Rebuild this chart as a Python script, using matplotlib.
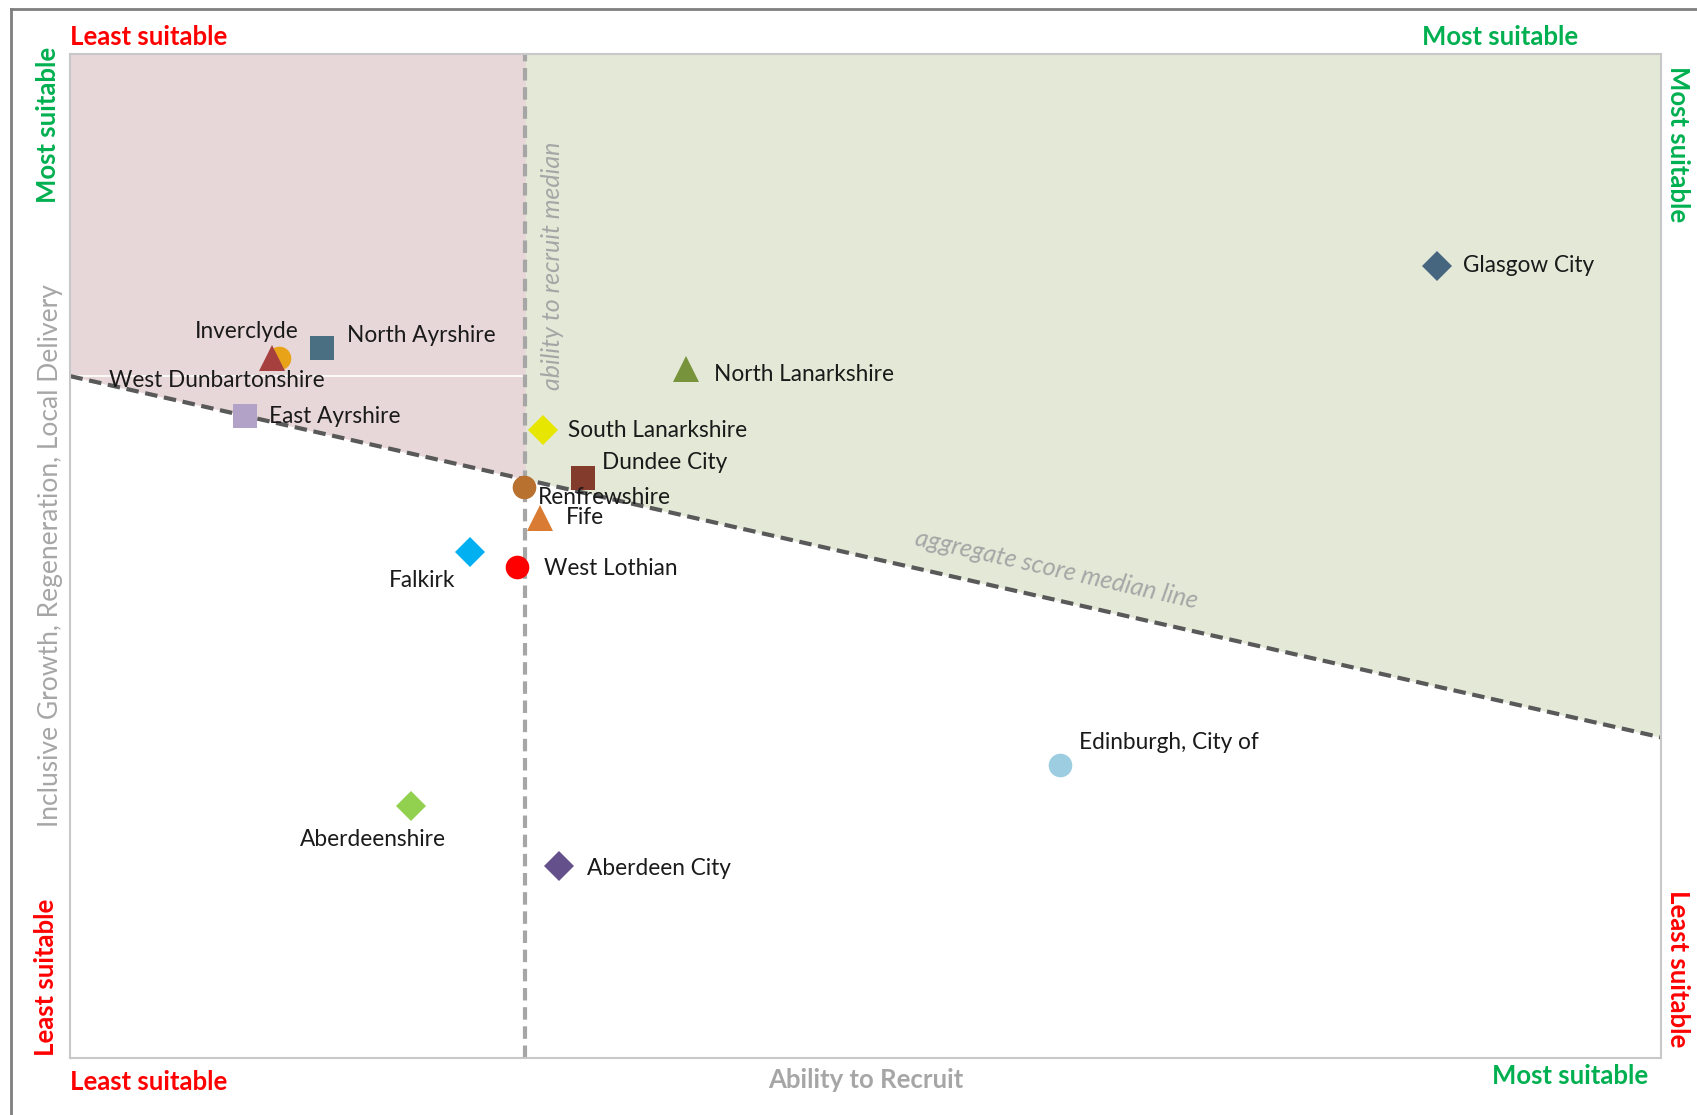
import matplotlib.pyplot as plt
from matplotlib.lines import Line2D

plt.rcParams['font.family'] = ['Lato', 'DejaVu Sans']

# council areas: ability to recruit (x) and inclusive growth score (y)
areas = ["Glasgow City", "North Lanarkshire", "North Ayrshire", "Inverclyde",
         "West Dunbartonshire", "East Ayrshire", "South Lanarkshire", "Dundee City",
         "Renfrewshire", "Fife", "Falkirk", "West Lothian", "Edinburgh, City of",
         "Aberdeenshire", "Aberdeen City"]
recruit = [85.9, 38.7, 15.8, 13.1, 12.7, 11.0, 29.7, 32.2, 28.5, 29.5, 25.1, 28.1, 62.2, 21.4, 30.7]
growth = [78.9, 68.6, 70.7, 69.7, 69.7, 63.9, 62.5, 57.8, 56.9, 53.8, 50.4, 48.9, 29.2, 25.1, 19.1]
markers = ["D", "^", "s", "o", "^", "s", "D", "s", "o", "^", "D", "o", "o", "D", "D"]
colours = ["#46667f", "#77933c", "#4a6f82", "#e8a319", "#a5403e", "#b3a2c7", "#e6e600",
           "#833c2c", "#b8712f", "#d97b33", "#00b0f0", "#ff0000", "#9ccde0", "#92d050", "#64508a"]

# medians
recruit_median = 28.6
agg_x = [0, 100]
agg_y = [67.9, 31.9]

# where each name sits relative to its marker (points) and alignment
label_off = {
    "Glasgow City": (19, 0, "left"), "North Lanarkshire": (20, -4, "left"),
    "North Ayrshire": (18, 9, "left"), "Inverclyde": (-23, 19, "center"),
    "West Dunbartonshire": (-40, -16, "center"), "East Ayrshire": (17, 0, "left"),
    "South Lanarkshire": (18, 0, "left"), "Dundee City": (14, 11, "left"),
    "Renfrewshire": (10, -8, "left"), "Fife": (19, 0, "left"),
    "Falkirk": (-34, -21, "center"), "West Lothian": (19, -1, "left"),
    "Edinburgh, City of": (14, 16, "left"), "Aberdeenshire": (-27, -24, "center"),
    "Aberdeen City": (20, -2, "left"),
}

fig = plt.figure(figsize=(16.97, 11.15), dpi=100)
ax = fig.add_axes([0.0415, 0.0515, 0.9375, 0.9])
ax.set_xlim(0, 100)
ax.set_ylim(0, 100)

def agg_line(x):
    return agg_y[0] + (agg_y[1] - agg_y[0]) * (x - agg_x[0]) / (agg_x[1] - agg_x[0])

# shaded zones above the aggregate line
ax.fill_between([0, recruit_median], [agg_line(0), agg_line(recruit_median)], 100,
                color="#e8d7d8", lw=0, zorder=0)
ax.fill_between([recruit_median, 100], [agg_line(recruit_median), agg_line(100)], 100,
                color="#e3e8d7", lw=0, zorder=0)
ax.plot([0, recruit_median], [agg_y[0], agg_y[0]], color="white", lw=1.2, zorder=1)

ax.axvline(recruit_median, color="#a6a6a6", lw=3, ls=(0, (3, 1.6)), zorder=2)
ax.plot(agg_x, agg_y, color="#595959", lw=3, ls=(0, (3, 1.6)), zorder=2)

for name, x, y, m, c in zip(areas, recruit, growth, markers, colours):
    size = 17 if m in ("s", "o") else (19 if m == "^" else 15)
    ax.plot(x, y, marker=m, color=c, ms=size, mew=0, ls="none", zorder=3)
    dx, dy, ha = label_off[name]
    ax.annotate(name, (x, y), xytext=(dx, dy), textcoords="offset points",
                ha=ha, va="center", fontsize=16.3, color="#1a1a1a", zorder=4)

ax.text(recruit_median + 1.7, 78.9, "ability to recruit median", rotation=90, style="italic",
        color="#a6a6a6", fontsize=18, ha="center", va="center")
ax.text(62, agg_line(62) + 3.1, "aggregate score median line", rotation=-12.7, style="italic",
        color="#a6a6a6", fontsize=18, ha="center", va="center", rotation_mode="anchor")

ax.set_xticks([])
ax.set_yticks([])
for s in ax.spines.values():
    s.set_color("#c8c8c8")
    s.set_linewidth(1.5)

red, green, grey = "#ff0000", "#00b050", "#a6a6a6"
fs = 18.5
fig.text(0.0415, 0.967, "Least suitable", color=red, fontsize=fs, weight="bold", va="center")
fig.text(0.93, 0.967, "Most suitable", color=green, fontsize=fs, weight="bold", va="center", ha="right")
fig.text(0.0415, 0.030, "Least suitable", color=red, fontsize=fs, weight="bold", va="center")
fig.text(0.971, 0.035, "Most suitable", color=green, fontsize=fs, weight="bold", va="center", ha="right")
fig.text(0.51, 0.031, "Ability to Recruit", color=grey, fontsize=fs, weight="bold", va="center", ha="center")
fig.text(0.028, 0.888, "Most suitable", color=green, fontsize=fs, weight="bold", rotation=90,
         va="center", ha="center")
fig.text(0.027, 0.123, "Least suitable", color=red, fontsize=fs, weight="bold", rotation=90,
         va="center", ha="center")
fig.text(0.989, 0.871, "Most suitable", color=green, fontsize=fs, weight="bold", rotation=-90,
         va="center", ha="center")
fig.text(0.989, 0.131, "Least suitable", color=red, fontsize=fs, weight="bold", rotation=-90,
         va="center", ha="center")
fig.text(0.030, 0.502, "Inclusive Growth, Regeneration, Local Delivery", color=grey, fontsize=19,
         rotation=90, va="center", ha="center")

# outer frame, left and top edges only
fig.add_artist(Line2D([0.0065, 0.0065], [0, 0.992], color="#7f7f7f", lw=2))
fig.add_artist(Line2D([0.0065, 1], [0.992, 0.992], color="#7f7f7f", lw=2))

fig.savefig("out.png", dpi=100)
